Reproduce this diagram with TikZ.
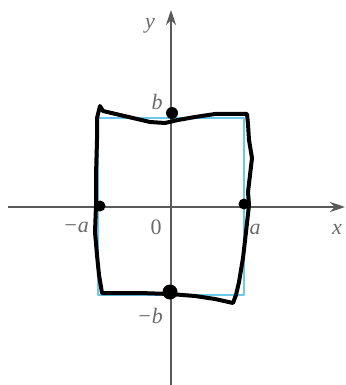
\documentclass[tikz,border=0pt]{standalone}
\usepackage{fontspec}
\setmainfont{Liberation Serif}
\usepackage{tikz}
\usetikzlibrary{arrows.meta}

\definecolor{axisgray}{HTML}{5A5A5A}
\definecolor{labelgray}{HTML}{6A6A6A}
\definecolor{boxblue}{HTML}{6CC8EE}

\tikzset{
    lbl/.style={text=labelgray, inner sep=0pt, font=\fontsize{22}{24}\selectfont\itshape},
    dot/.style={circle, fill=black, inner sep=0pt, minimum size=#1},
}

\begin{document}
\begin{tikzpicture}[x=1pt, y=-1pt, >={Stealth[length=15pt,width=10pt]}, line join=round]
    \useasboundingbox (0,0) rectangle (345,385);

    % rectangle under the sketch
    \draw[boxblue, line width=2.4pt] (98,118) rectangle (244,295);

    % axes
    \coordinate (xl) at (8,207);
    \coordinate (xr) at (345,207);
    \coordinate (yb) at (171,385);
    \coordinate (yt) at (171,10);
    \draw[->, axisgray, line width=2pt] (xl) -- (xr);
    \draw[->, axisgray, line width=2pt] (yb) -- (yt);

    \node[lbl] (ylab) at (150,26) {y};
    \node[lbl] (xlab) at (337,229) {x};
    \node[lbl] (blab) at (157,102) {b};
    \node[lbl] (mblab) at (150,316) {−b};
    \node[lbl] (alab) at (255,229) {a};
    \node[lbl] (malab) at (76,227) {−a};
    \node[lbl, font=\fontsize{22}{24}\selectfont] (zero) at (156,227) {0};

    % hand drawn outline
    \draw[line width=4pt] (100,106) -- (103,111) -- (120,115) -- (150,122)
        -- (165,123) -- (178,120) -- (195,117) -- (215,114) -- (247,114)
        -- (248,124) -- (249,140) -- (252,158) -- (250,175) -- (248,192)
        -- (249,205) -- (246,232) -- (243,258) -- (239,282) -- (236,295)
        -- (233,303) -- (215,299) -- (195,296) -- (170,294) -- (140,293)
        -- (102,293) -- (99,275) -- (97,255) -- (95,232) -- (96,205)
        -- (96,175) -- (97,140) -- (97,118) -- cycle;

    % points on the axes
    \node[dot=12pt] (ptop) at (172,113) {};
    \node[dot=15pt] (pbot) at (170,292) {};
    \node[dot=11pt] (pleft) at (100,206) {};
    \node[dot=11pt] (pright) at (244,204) {};
\end{tikzpicture}
\end{document}
